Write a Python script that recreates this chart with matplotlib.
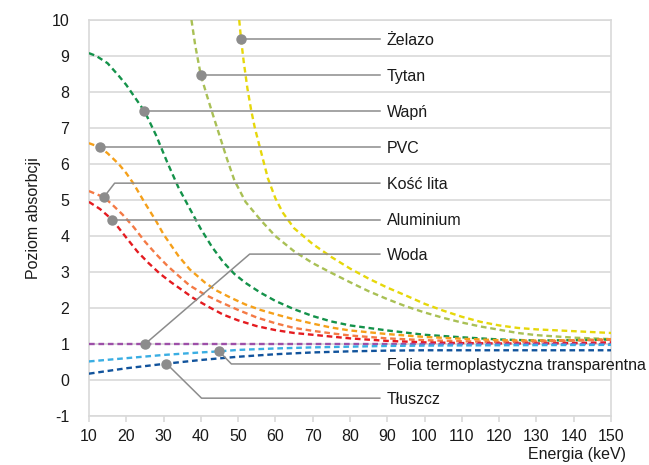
import numpy as np
import matplotlib
matplotlib.use('Agg')
import matplotlib.pyplot as plt

plt.rcParams['font.family'] = ['Liberation Sans', 'DejaVu Sans']
plt.rcParams['axes.unicode_minus'] = False

zelazo_x = [50.3, 50.8, 51.5, 52.5, 53.5, 54.5, 56, 58, 60, 62, 65, 70, 75, 80, 85, 90, 95, 100, 105, 110, 115, 120, 125, 130, 140, 150]
zelazo_y = [10.0, 9.46, 8.85, 8.1, 7.5, 7.0, 6.4, 5.6, 5.05, 4.65, 4.22, 3.78, 3.42, 3.1, 2.82, 2.57, 2.35, 2.12, 1.93, 1.76, 1.62, 1.52, 1.45, 1.41, 1.36, 1.31]

tytan_x = [37.5, 38.5, 40, 41.5, 43, 45, 47, 49, 52, 56, 60, 65, 70, 75, 80, 85, 90, 95, 100, 105, 110, 115, 120, 125, 130, 140, 150]
tytan_y = [10.0, 9.3, 8.47, 7.95, 7.45, 6.8, 6.15, 5.55, 4.95, 4.45, 4.0, 3.58, 3.25, 2.98, 2.72, 2.47, 2.25, 2.05, 1.88, 1.73, 1.6, 1.49, 1.4, 1.31, 1.25, 1.18, 1.14]

wapn_x = [10, 12, 15, 18, 20, 22, 25, 28, 31, 34, 37, 40, 43, 46, 49, 52, 56, 60, 65, 70, 75, 80, 90, 100, 110, 120, 130, 140, 150]
wapn_y = [9.08, 9.0, 8.8, 8.45, 8.2, 7.9, 7.45, 6.8, 6.05, 5.35, 4.77, 4.2, 3.7, 3.28, 2.95, 2.7, 2.43, 2.2, 1.97, 1.78, 1.63, 1.52, 1.38, 1.26, 1.19, 1.13, 1.1, 1.11, 1.13]

pvc_x = [10, 12.9, 15, 18, 20, 22, 25, 28, 30, 32, 34, 37, 41, 44, 48, 52, 56, 60, 65, 70, 75, 80, 90, 100, 110, 120, 130, 140, 150]
pvc_y = [6.58, 6.47, 6.3, 6.0, 5.75, 5.45, 4.92, 4.42, 4.05, 3.75, 3.45, 3.08, 2.72, 2.5, 2.29, 2.1, 1.95, 1.83, 1.69, 1.57, 1.46, 1.38, 1.28, 1.2, 1.15, 1.11, 1.1, 1.11, 1.14]

kosc_x = [10, 14, 16, 19, 22, 25, 28, 31, 34, 37, 41, 45, 50, 55, 60, 65, 70, 75, 80, 90, 100, 110, 120, 130, 140, 150]
kosc_y = [5.25, 5.08, 4.9, 4.6, 4.25, 3.85, 3.5, 3.18, 2.9, 2.63, 2.38, 2.18, 1.95, 1.74, 1.58, 1.45, 1.37, 1.3, 1.24, 1.16, 1.11, 1.08, 1.06, 1.07, 1.1, 1.12]

al_x = [10, 13, 16.3, 20, 23, 26, 29, 32, 35, 38, 42, 46, 50, 55, 60, 65, 70, 75, 80, 90, 100, 110, 120, 130, 140, 150]
al_y = [4.95, 4.75, 4.45, 3.96, 3.57, 3.25, 2.96, 2.72, 2.5, 2.28, 2.04, 1.82, 1.66, 1.5, 1.39, 1.31, 1.26, 1.21, 1.16, 1.09, 1.05, 1.03, 1.02, 1.02, 1.03, 1.05]

woda_x = [10, 150]
woda_y = [1.0, 1.0]

folia_x = [10, 20, 30, 40, 45, 50, 60, 70, 80, 90, 100, 120, 150]
folia_y = [0.52, 0.61, 0.7, 0.77, 0.8, 0.84, 0.88, 0.91, 0.93, 0.95, 0.96, 0.97, 0.98]

tluszcz_x = [10, 20, 30, 40, 50, 60, 70, 80, 90, 100, 120, 150]
tluszcz_y = [0.18, 0.33, 0.45, 0.56, 0.65, 0.72, 0.77, 0.8, 0.82, 0.83, 0.83, 0.83]

names = ['Żelazo', 'Tytan', 'Wapń', 'PVC', 'Kość lita', 'Aluminium', 'Woda',
         'Folia termoplastyczna transparentna', 'Tłuszcz']
series = [(zelazo_x, zelazo_y), (tytan_x, tytan_y), (wapn_x, wapn_y), (pvc_x, pvc_y),
          (kosc_x, kosc_y), (al_x, al_y), (woda_x, woda_y), (folia_x, folia_y),
          (tluszcz_x, tluszcz_y)]
colors = ['#e6d70a', '#a9c055', '#14924a', '#f5a01a', '#f47a45', '#e41b20',
          '#9d4fa8', '#3aaee3', '#11539c']

# gdzie punkt i gdzie etykieta
mark_x = [50.8, 40.0, 24.9, 12.9, 14.0, 16.3, 25.0, 44.9, 30.8]
elbow_x = [None, None, None, None, 16.9, None, 53.1, 48.2, 40.2]
label_y = [9.47, 8.47, 7.47, 6.47, 5.47, 4.47, 3.5, 0.45, -0.5]

fig = plt.figure(figsize=(6.49, 4.65), dpi=100)
ax = fig.add_axes([0.137, 0.105, 0.8045, 0.852])

for (x, y), c in zip(series, colors):
    ax.plot(x, y, color=c, lw=1.7, linestyle=(0, (2.4, 1.6)), zorder=3)

for i in range(len(names)):
    sx, sy = series[i]
    my = float(np.interp(mark_x[i], sx, sy))
    if elbow_x[i] is None:
        px = [mark_x[i], 88]
        py = [my, my]
    else:
        px = [mark_x[i], elbow_x[i], 88]
        py = [my, label_y[i], label_y[i]]
    ax.plot(px, py, color='#8c8c8c', lw=1.1, zorder=4, clip_on=False)
    ax.plot(mark_x[i], my, 'o', color='#8c8c8c', ms=6.5, zorder=5, clip_on=False)
    ax.annotate(names[i], (89.8, py[-1]), xytext=(0, -4), textcoords='offset points',
                fontsize=11.5, va='baseline', ha='left', color='#1a1a1a', zorder=6)

ax.set_xlim(10, 150)
ax.set_ylim(-1, 10)
ax.set_xticks(np.arange(10, 151, 10))
ax.set_yticks(np.arange(-1, 11, 1))
ax.grid(axis='y', color='#d9d9d9', lw=1.2)
ax.set_axisbelow(True)
for s in ax.spines.values():
    s.set_color('#d9d9d9')
    s.set_linewidth(1.2)
ax.tick_params(axis='x', length=4, width=1.2, color='#d9d9d9', pad=5,
               labelsize=11.5, labelcolor='#1a1a1a')
ax.tick_params(axis='y', length=0, pad=14, labelsize=11.5, labelcolor='#1a1a1a')

ax.set_ylabel('Poziom absorbcji', fontsize=11.5, color='#1a1a1a', labelpad=8)
fig.text(0.889, 0.022, 'Energia (keV)', fontsize=11.5, color='#1a1a1a', ha='center', va='center')

fig.savefig('out.png', dpi=100)
